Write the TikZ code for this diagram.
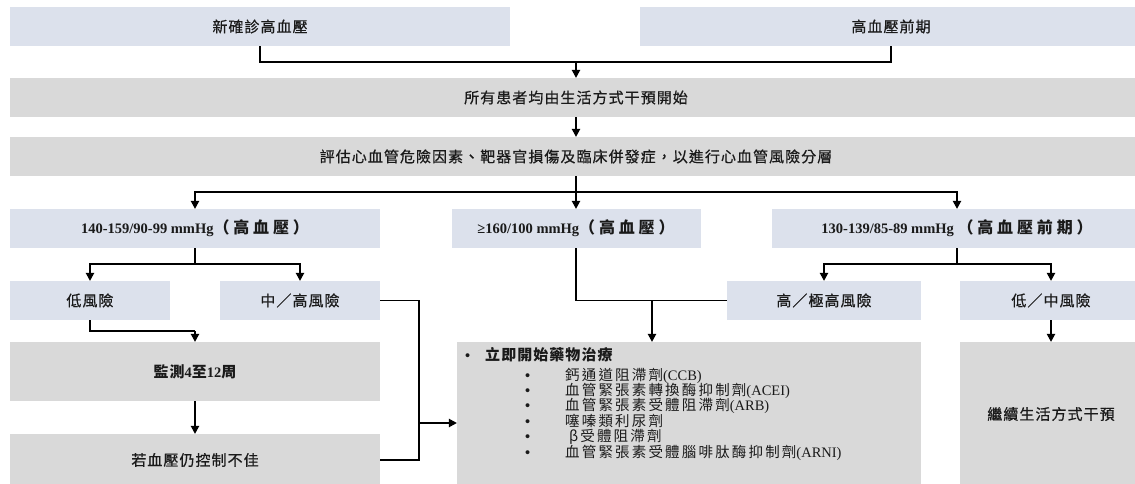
\documentclass[tikz,border=0pt]{standalone}
\usepackage{fontspec}
\usetikzlibrary{arrows.meta}
\setmainfont{Liberation Serif}
\newfontfamily\cj[LetterSpace=7,FakeBold=0.6]{Noto Sans CJK TC}
\newfontfamily\cjb[LetterSpace=7]{Noto Sans CJK TC}
\newfontfamily\cjh[LetterSpace=24]{Noto Sans CJK TC}
\newfontfamily\cjl[LetterSpace=15]{Noto Sans CJK TC}
\newfontfamily\lsans{Liberation Sans}
\definecolor{boxblue}{HTML}{DCE1EC}
\definecolor{boxgray}{HTML}{D9D9D9}
\definecolor{txt}{HTML}{1A1A1A}
\tikzset{
  bbox/.style={fill=boxblue, draw=none, inner sep=0pt, minimum height=39pt, text=txt,
    font=\fontsize{15}{17}\selectfont},
  gbox/.style={fill=boxgray, draw=none, inner sep=0pt, minimum height=39pt, text=txt,
    font=\fontsize{15}{17}\selectfont},
  hbox/.style={bbox, font=\fontsize{14.5}{17}\selectfont\bfseries},
  hcj/.style={},
  listline/.style={anchor=base west, inner sep=0pt, text=txt, font=\fontsize{14.5}{16}\selectfont},
  conn/.style={line width=1.1pt, draw=black},
  arr/.style={conn, -{Triangle[length=8pt,width=8.5pt]}},
}
\newcommand{\hj}[1]{{\cjh\fontsize{16}{17}\selectfont #1}}
\begin{document}
\begin{tikzpicture}[x=1pt,y=-1pt]
\useasboundingbox (0,0) rectangle (1135,484);
\clip (0,0) rectangle (1135,484);
% boxes
\node[bbox, minimum width=500pt] (b1) at (260,26.5) {\cj 新確診高血壓};
\node[bbox, minimum width=502pt] (b2) at (891,26.5) {\cj 高血壓前期};
\node[gbox, minimum width=1132pt] (b3) at (576,97.5) {\cj 所有患者均由生活方式干預開始};
\node[gbox, minimum width=1132pt] (b4) at (576,156.5) {\cj 評估心血管危險因素、靶器官損傷及臨床併發症，以進行心血管風險分層};
\node[hbox, minimum width=370pt] (b5) at (195,228.5) {140-159/90-99 mmHg\hj{（高血壓）}};
\node[hbox, minimum width=249pt] (b6) at (576,228.5) {≥160/100 mmHg\hj{（高血壓）}};
\node[hbox, minimum width=370pt] (b7) at (957,228.5) {130-139/85-89 mmHg \hj{（高血壓前期）}};
\node[bbox, minimum width=160pt] (b8) at (90,300.5) {\cj 低風險};
\node[bbox, minimum width=160pt] (b9) at (300,300.5) {\cj 中／高風險};
\node[bbox, minimum width=194pt] (b10) at (824,300.5) {\cj 高／極高風險};
\node[bbox, minimum width=182pt] (b11) at (1051,300.5) {\cj 低／中風險};
\node[gbox, minimum width=370pt, minimum height=59pt] (b13) at (195,371.5) {\cjb\bfseries 監測{\rmfamily\fontsize{14.5}{17}\selectfont 4}至{\rmfamily\fontsize{14.5}{17}\selectfont 12}周};
\node[gbox, minimum width=370pt, minimum height=52pt] (b14) at (195,460) {\cj 若血壓仍控制不佳};
\node[gbox, minimum width=464pt, minimum height=144pt] (b12) at (689,414) {};
\node[gbox, minimum width=182pt, minimum height=144pt] (b15) at (1051,414) {\cj 繼續生活方式干預};
% list inside b12
\node[listline] (l1) at (465,360) {\makebox[20pt][l]{\lsans\textbullet}{\cjb\bfseries\fontsize{15}{16}\selectfont 立即開始藥物治療}};
\node[listline] (l2) at (525,380) {\makebox[40pt][l]{\lsans\textbullet}{\cjl 鈣通道阻滯劑}(CCB)};
\node[listline] (l3) at (525,395.4) {\makebox[40pt][l]{\lsans\textbullet}{\cjl 血管緊張素轉換酶抑制劑}(ACEI)};
\node[listline] (l4) at (525,410.8) {\makebox[40pt][l]{\lsans\textbullet}{\cjl 血管緊張素受體阻滯劑}(ARB)};
\node[listline] (l5) at (525,426.2) {\makebox[40pt][l]{\lsans\textbullet}{\cjl 噻嗪類利尿劑}};
\node[listline] (l6) at (525,441.6) {\makebox[40pt][l]{\lsans\textbullet}\hspace{4pt}{\cjl β\hspace{2pt}受體阻滯劑}};
\node[listline] (l7) at (525,457) {\makebox[40pt][l]{\lsans\textbullet}{\cjl 血管緊張素受體腦啡肽酶抑制劑}(ARNI)};
% connectors
\coordinate (m1) at (576,62);
\draw[conn] (b1.south) |- (m1) -| (b2.south);
\draw[arr] (m1) -- (b3.north);
\draw[arr] (b3.south) -- (b4.north);
\coordinate (m2) at (576,192);
\draw[conn] (b4.south) -- (m2);
\draw[arr] (m2) -| (b5.north);
\draw[arr] (m2) -| (b7.north);
\draw[arr] (m2) -- (b6.north);
\coordinate (m3) at (195,264);
\draw[conn] (b5.south) -- (m3);
\draw[arr] (m3) -| (b8.north);
\draw[arr] (m3) -| (b9.north);
\coordinate (m4) at (957,264);
\draw[conn] (b7.south) -- (m4);
\draw[arr] (m4) -| (b10.north);
\draw[arr] (m4) -| (b11.north);
\coordinate (m5) at (195,331);
\draw[conn] (b8.south) |- (m5);
\draw[arr] (m5) -- (b13.north);
\draw[arr] (b13.south) -- (b14.north);
\coordinate (m6) at (419,423);
\draw[conn] (b9.east) -| (m6) |- (b14.east);
\draw[arr] (m6) -- (b12.west |- m6);
\coordinate (m7) at (652,300.5);
\draw[conn] (b6.south) |- (b10.west);
\draw[arr] (m7) -- (m7 |- b12.north);
\draw[arr] (b11.south) -- (b15.north);
\end{tikzpicture}
\end{document}
